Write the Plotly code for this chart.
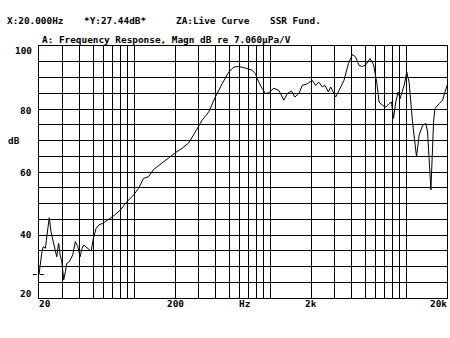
import math
import plotly.graph_objects as go

# ---- data ----
freq_hz = [20.0, 20.34, 21.04, 21.5, 22.3, 22.9, 23.8, 24.5, 25.2, 25.9, 27.0, 27.9, 28.6, 29.4,
           30.4, 31.3, 32.0, 33.5, 35.4, 37.0, 38.6, 40.1, 41.5, 42.7, 44.4, 47.0, 48.3, 50.3,
           52.6, 55.1, 58.9, 64.2, 71.8, 79.1, 88.6, 99.1, 107.9, 117.4, 127.8, 139.1, 160.4,
           179.4, 201, 225.2, 252, 282, 316, 354, 396, 444, 497, 541, 589, 659, 739, 781, 826,
           875, 926, 979, 1066, 1160, 1263, 1338, 1439, 1521, 1629, 1726, 1878, 2044, 2162,
           2287, 2424, 2533, 2683, 2790, 3037, 3212, 3497, 3767, 4030, 4263, 4508, 4775, 5051,
           5433, 5756, 6088, 6331, 6706, 7092, 7499, 7812, 8084, 8404, 8737, 9040, 9673,
           10128, 10530, 11155, 11940, 12480, 13222, 13984, 14395, 15224, 15938, 16292,
           17520, 18564, 20000]
magn_db = [27.44, 30.5, 34.7, 36.3, 35.8, 40.0, 45.5, 41.0, 38.4, 35.8, 33.1, 37.4, 33.7, 31.6,
           25.8, 28.4, 31.0, 31.6, 33.7, 37.9, 36.3, 33.1, 35.8, 36.8, 36.3, 35.3, 34.9, 39.0,
           42.1, 43.2, 43.7, 44.8, 46.3, 47.9, 50.55, 52.7, 54.8, 58.0, 58.5, 60.8, 62.9,
           64.3, 66.1, 67.5, 69.2, 72.7, 76.4, 79.1, 83.8, 88.0, 91.7, 93.3, 93.5, 93.0, 92.3,
           91.2, 88.5, 86.5, 84.9, 85.2, 86.6, 85.9, 82.8, 84.9, 85.7, 83.8, 84.9, 87.5, 88.0,
           89.1, 87.5, 88.5, 87.0, 87.5, 85.4, 87.0, 83.8, 85.9, 89.1, 94.4, 97.3, 96.5, 93.8,
           93.5, 94.0, 96.0, 94.2, 88.5, 82.2, 81.2, 80.6, 81.7, 82.2, 77.0, 82.2, 85.4, 83.3,
           87.5, 91.7, 88.5, 75.9, 64.8, 71.7, 74.8, 75.4, 72.7, 54.3, 75.9, 80.1, 81.7, 82.8,
           87.5]

x_grid = [20, 30, 40, 50, 60, 70, 80, 90, 100, 200, 300, 400, 500, 600, 700, 800, 900,
          1000, 2000, 3000, 4000, 5000, 6000, 7000, 8000, 9000, 10000, 20000]
y_grid = [20, 25, 30, 35, 40, 45, 50, 55, 60, 65, 70, 75, 80, 85, 90, 95, 100]
x_tick_vals = [20, 200, 2000, 20000]
x_tick_text = ["20", "200", "2k", "20k"]
y_tick_vals = [100, 80, 60, 40, 20]
y_tick_text = ["100", "80", "60", "40", "20"]
cursor_x_text = "X:20.000Hz"
cursor_y_text = "*Y:27.44dB*"
cursor_db = 27.44
header_items = ["ZA:Live Curve", "SSR Fund."]
title_text = "A: Frequency Response, Magn dB re 7.060\u03bcPa/V"
x_unit = "Hz"
y_unit = "dB"

FONT = dict(family="DejaVu Sans Mono", size=9.4, color="black", weight="bold")

fig = go.Figure()
fig.add_trace(go.Scatter(x=freq_hz, y=magn_db, mode="lines",
                         line=dict(color="black", width=1), hoverinfo="skip"))

X0, X1 = math.log10(20), math.log10(20000)
fig.update_layout(
    width=450, height=338,
    margin=dict(l=39, r=3, t=46, b=40),
    paper_bgcolor="white", plot_bgcolor="white",
    showlegend=False,
    xaxis=dict(type="log", range=[X0, X1], tickvals=x_grid,
               showticklabels=False, ticks="", showgrid=True, gridcolor="black",
               gridwidth=1, showline=True, linecolor="black", linewidth=1,
               mirror=True, zeroline=False),
    yaxis=dict(range=[20, 100], tickvals=y_grid, showticklabels=False, ticks="",
               showgrid=True, gridcolor="black", gridwidth=1, showline=True,
               linecolor="black", linewidth=1, mirror=True, zeroline=False),
)

# x tick labels (positioned on the axis fraction of the log scale)
anchors = ["left", "center", "center", "right"]
shifts = [-2, 0, 0, 2]
for v, t, a, s in zip(x_tick_vals, x_tick_text, anchors, shifts):
    frac = (math.log10(v) - X0) / (X1 - X0)
    fig.add_annotation(x=frac, y=0, xref="paper", yref="paper", text=t,
                       showarrow=False, xanchor=a, yanchor="top", yshift=2, xshift=s,
                       font=FONT)
fig.add_annotation(x=math.log10(650), y=0, xref="x", yref="paper", text=x_unit,
                   showarrow=False, xanchor="center", yanchor="top", yshift=2, font=FONT)

# y tick labels
yshifts = {100: -4, 80: -1, 60: 0, 40: 1, 20: 5}
for v, t in zip(y_tick_vals, y_tick_text):
    fig.add_annotation(x=0, y=v, xref="paper", yref="y", text=t, showarrow=False,
                       xanchor="right", yanchor="middle", xshift=-5, yshift=yshifts[v],
                       font=FONT)
fig.add_annotation(x=0, y=70, xref="paper", yref="y", text=y_unit, showarrow=False,
                   xanchor="center", yanchor="middle", xshift=-25.5, font=FONT)

# header texts (pixel offsets from top-left of plot area)
def head(text, px, py):
    fig.add_annotation(x=0, y=1, xref="paper", yref="paper", text=text, showarrow=False,
                       xanchor="left", yanchor="middle", xshift=px - 39 - 1,
                       yshift=46 - py, font=FONT)

head(cursor_x_text, 6, 20)
head(cursor_y_text, 83, 20)
head(header_items[0], 175, 20)
head(header_items[1], 269, 20)
head(title_text, 41, 39.5)

# cursor marker
fig.add_shape(type="line", xref="paper", yref="y", x0=-0.015, x1=0.02,
              y0=cursor_db, y1=cursor_db, line=dict(color="black", width=1, dash="4px,3px"))

fig.write_html("out.html")
